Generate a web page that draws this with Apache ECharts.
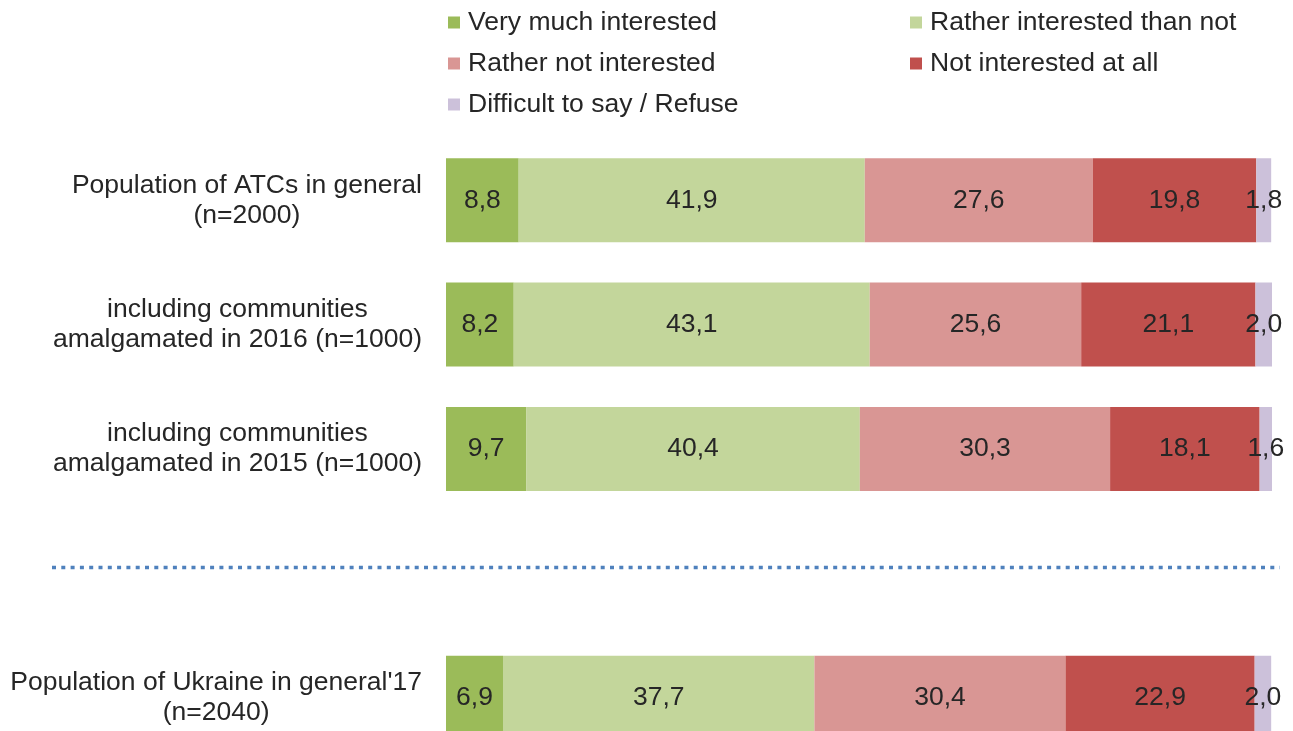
<!DOCTYPE html>
<html>
<head>
<meta charset="utf-8">
<script src="https://cdn.jsdelivr.net/npm/echarts@6/dist/echarts.min.js"></script>
<style>
html,body{margin:0;padding:0;background:#fff;}
#main{width:1293px;height:731px;}
</style>
</head>
<body>
<div id="main"></div>
<script>
const categories = [
  'Population of ATCs in general\n(n=2000)',
  'including communities\namalgamated in 2016 (n=1000)',
  'including communities\namalgamated in 2015 (n=1000)',
  '',
  "Population of Ukraine in general'17\n(n=2040)"
];
const seriesNames = ['Very much interested', 'Rather interested than not', 'Rather not interested', 'Not interested at all', 'Difficult to say / Refuse'];
const veryMuch = [8.8, 8.2, 9.7, null, 6.9];
const ratherInterested = [41.9, 43.1, 40.4, null, 37.7];
const ratherNot = [27.6, 25.6, 30.3, null, 30.4];
const notAtAll = [19.8, 21.1, 18.1, null, 22.9];
const difficult = [1.8, 2.0, 1.6, null, 2.0];
const colors = ['#9BBB59', '#C3D69B', '#D99694', '#C0504D', '#CCC1DA'];

const allValues = [veryMuch, ratherInterested, ratherNot, notAtAll, difficult];
const font = 'Liberation Sans, Arial, sans-serif';
const fs = 26.5;

const chart = echarts.init(document.getElementById('main'), null, {renderer: 'canvas'});

const series = seriesNames.map((name, i) => ({
  name: name,
  type: 'bar',
  stack: 'total',
  barWidth: 84,
  data: allValues[i],
  itemStyle: {color: colors[i]},
  label: {
    show: true,
    position: 'inside',
    color: '#262626',
    fontSize: fs,
    fontFamily: font,
    formatter: p => p.value == null ? '' : p.value.toFixed(1).replace('.', ',')
  },
  emphasis: {disabled: true}
}));

const legendText = {fontSize: fs, lineHeight: 26, color: '#262626', fontFamily: font, padding: [0, 0, 0, 3]};

const option = {
  animation: false,
  backgroundColor: '#fff',
  textStyle: {fontFamily: font},
  legend: [
    {
      data: [seriesNames[0], seriesNames[2], seriesNames[4]],
      orient: 'vertical', left: 448, top: 9, padding: 0,
      itemWidth: 12, itemHeight: 12, itemGap: 14,
      icon: 'rect',
      textStyle: legendText,
      selectedMode: false
    },
    {
      data: [seriesNames[1], seriesNames[3]],
      orient: 'vertical', left: 910, top: 9, padding: 0,
      itemWidth: 12, itemHeight: 12, itemGap: 14,
      icon: 'rect',
      textStyle: legendText,
      selectedMode: false
    }
  ],
  grid: {left: 446, right: 21, top: 138, height: 622, containLabel: false, outerBoundsMode: 'none'},
  xAxis: {
    type: 'value', min: 0, max: 100, show: false
  },
  yAxis: {
    type: 'category',
    data: categories,
    inverse: true,
    axisLine: {show: false},
    axisTick: {show: false},
    splitLine: {show: false},
    axisLabel: {
      margin: 24,
      align: 'right',
      formatter: v => v.split('\n').map(s => '{c|' + s + '}').join('\n'),
      rich: {c: {align: 'center', fontSize: fs, lineHeight: 30, color: '#262626', fontFamily: font}}
    }
  },
  series: series
};
chart.setOption(option);

const yGap = chart.convertToPixel({yAxisIndex: 0}, 3);
chart.setOption({
  graphic: [{
    type: 'line',
    shape: {x1: 52, y1: yGap - 6, x2: 1280, y2: yGap - 6},
    style: {stroke: '#4F81BD', lineWidth: 3.5, lineDash: [4, 5.3]},
    silent: true
  }]
});
</script>
</body>
</html>
